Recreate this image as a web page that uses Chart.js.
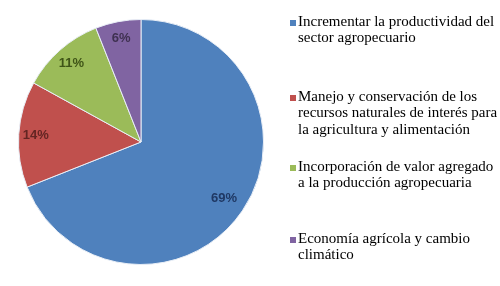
<!DOCTYPE html>
<html>
<head>
  <meta charset="UTF-8">
  <title>Áreas temáticas</title>
  <script src="https://cdn.jsdelivr.net/npm/chart.js"></script>
  <style>
    body { margin: 0; background: #fff; }
  </style>
</head>
<body>
  <canvas id="pie" width="500" height="286"></canvas>

  <script>
    // Data
    var categories = [
      ['Incrementar la productividad del', 'sector agropecuario'],
      ['Manejo y conservación de los', 'recursos naturales de interés para', 'la agricultura y alimentación'],
      ['Incorporación de valor agregado', 'a la producción agropecuaria'],
      ['Economía agrícola y cambio', 'climático']
    ];
    var shares = [69, 14, 11, 6];
    var sliceColors = ['#4F81BD', '#C0504D', '#9BBB59', '#8064A2'];
    var labelColors = ['#1F3864', '#632523', '#3F5417', '#3F3151'];

    // legend layout (first-line centre of each entry)
    var legendY = [22, 97, 167, 239];
    var legendX = 298;
    var lineH = 16.5;

    // Percentage labels inside the slices + legend on the right
    var pieText = {
      id: 'pieText',
      afterDatasetsDraw: function(chart) {
        var ctx = chart.ctx;
        var meta = chart.getDatasetMeta(0);
        ctx.save();
        ctx.font = 'bold 13px "Liberation Sans", Arial, sans-serif';
        ctx.textAlign = 'center';
        ctx.textBaseline = 'middle';
        meta.data.forEach(function(arc, i) {
          var mid = (arc.startAngle + arc.endAngle) / 2;
          var r = arc.outerRadius * (i === 0 ? 0.82 : 0.86);
          ctx.fillStyle = labelColors[i];
          ctx.fillText(shares[i] + '%', arc.x + Math.cos(mid) * r, arc.y + Math.sin(mid) * r);
        });

        ctx.font = '15px "Liberation Serif", "Times New Roman", serif';
        ctx.textAlign = 'left';
        categories.forEach(function(lines, i) {
          ctx.fillStyle = sliceColors[i];
          ctx.fillRect(legendX - 8, legendY[i] - 2, 6, 6);
          ctx.fillStyle = '#000';
          lines.forEach(function(line, j) {
            ctx.fillText(line, legendX, legendY[i] + j * lineH);
          });
        });
        ctx.restore();
      }
    };

    new Chart(document.getElementById('pie').getContext('2d'), {
      type: 'pie',
      data: {
        labels: categories.map(function(c) { return c.join(' '); }),
        datasets: [{
          data: shares,
          backgroundColor: sliceColors,
          borderColor: '#e8eef6',
          borderWidth: 1
        }]
      },
      options: {
        responsive: false,
        animation: false,
        layout: { padding: { left: 18, top: 19, right: 236, bottom: 21 } },
        plugins: {
          legend: { display: false },
          tooltip: { enabled: false }
        }
      },
      plugins: [pieText]
    });
  </script>
</body>
</html>
